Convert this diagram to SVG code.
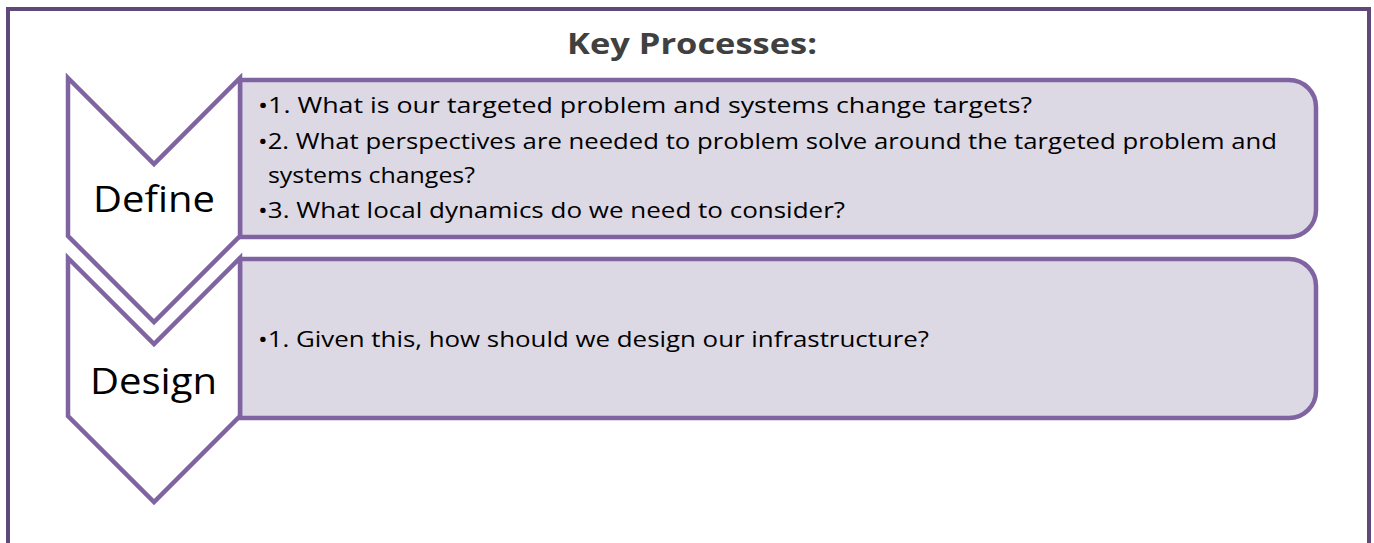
<svg xmlns="http://www.w3.org/2000/svg" width="1374" height="543" viewBox="0 0 1374 543">
  <style>
    .frame { fill: #ffffff; stroke: #5F497A; stroke-width: 4; }
    .chev { fill: #ffffff; stroke: #8064A2; stroke-width: 4.5; stroke-linejoin: miter; }
    .box { fill: #DCD8E4; stroke: #8064A2; stroke-width: 4.5; }
    .title { font-family: "Open Sans", "Noto Sans", sans-serif; font-weight: bold; font-size: 29px; fill: #404040; }
    .label { font-family: "Open Sans", "Noto Sans", sans-serif; font-size: 36px; fill: #000000; }
    .item { font-family: "Open Sans", "Noto Sans", sans-serif; font-size: 22px; fill: #000000; }
  </style>
  <rect width="1374" height="543" fill="#ffffff"/>
  <g id="frame">
    <rect class="frame" x="8" y="9" width="1361" height="600"/>
  </g>
  <g id="title">
    <text class="title" x="567" y="54" textLength="250" lengthAdjust="spacingAndGlyphs">Key Processes:</text>
  </g>
  <g id="node-define">
    <path class="box" d="M240,80 H1289 A27,27 0 0 1 1316,107 V210 A27,27 0 0 1 1289,237 H240 Z"/>
    <path class="chev" d="M68,78 L154,164 L240,78 L240,236 L154,322 L68,236 Z"/>
    <text class="label" x="93" y="212" textLength="122" lengthAdjust="spacingAndGlyphs">Define</text>
    <text class="item" x="258" y="113" textLength="774" lengthAdjust="spacingAndGlyphs">•1. What is our targeted problem and systems change targets?</text>
    <text class="item" x="258" y="149" textLength="1019" lengthAdjust="spacingAndGlyphs">•2. What perspectives are needed to problem solve around the targeted problem and</text>
    <text class="item" x="268" y="183" textLength="207" lengthAdjust="spacingAndGlyphs">systems changes?</text>
    <text class="item" x="258" y="218" textLength="587" lengthAdjust="spacingAndGlyphs">•3. What local dynamics do we need to consider?</text>
  </g>
  <g id="node-design">
    <path class="box" d="M240,259 H1289 A27,27 0 0 1 1316,286 V391 A27,27 0 0 1 1289,418 H240 Z"/>
    <path class="chev" d="M68,258 L154,344 L240,258 L240,416 L154,502 L68,416 Z"/>
    <text class="label" x="90" y="394" textLength="127" lengthAdjust="spacingAndGlyphs">Design</text>
    <text class="item" x="258" y="347" textLength="671" lengthAdjust="spacingAndGlyphs">•1. Given this, how should we design our infrastructure?</text>
  </g>
  <g id="connectors"/>
</svg>
